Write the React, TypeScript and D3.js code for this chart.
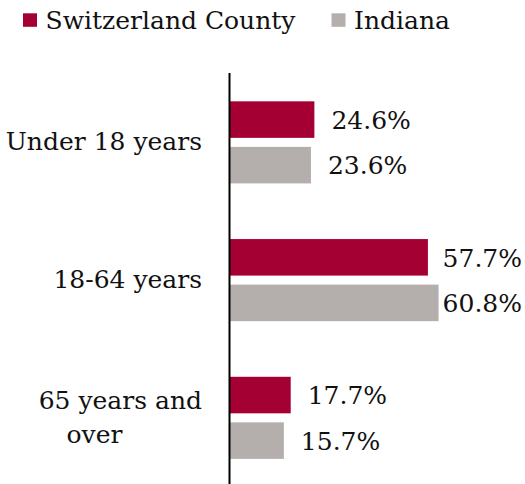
import * as d3 from 'd3'
import { useRef, useEffect } from 'react'

const categories = ['Under 18 years', '18-64 years', '65 years and over']
const seriesNames = ['Switzerland County', 'Indiana']
const switzerlandValues = [24.6, 57.7, 17.7]
const indianaValues = [23.6, 60.8, 15.7]
const labelLines = [['Under 18 years'], ['18-64 years'], ['65 years and', 'over']]
const colors = ['#A50034', '#B4AFAC']

const App = () => {
  const chartRef = useRef<SVGSVGElement>(null)

  useEffect(() => {
    drawChart()
  }, [])

  const drawChart = () => {
    const width = 525
    const height = 484
    const font = 'DejaVu Serif'
    const fontSize = 25

    const svg = d3.select(chartRef.current)
    svg.selectAll('*').remove()
    svg.attr('width', width).attr('height', height)

    const rows = categories.map((c, i) => ({
      category: c,
      values: [switzerlandValues[i], indianaValues[i]]
    }))

    const y0 = d3
      .scaleBand()
      .domain(categories)
      .range([73.5, 486.7])
      .paddingInner(0.404)
      .paddingOuter(0.202)
    const y1 = d3.scaleBand().domain(seriesNames).range([0, y0.bandwidth()]).paddingInner(0.198)
    const x = d3.scaleLinear().domain([0, 80]).range([230, 230 + 80 * 3.43])
    const color = d3.scaleOrdinal<string>().domain(seriesNames).range(colors)

    // legend
    const legend = svg.append('g')
    const legendX = [23, 331.5]
    seriesNames.forEach((name, i) => {
      legend
        .append('rect')
        .attr('x', legendX[i])
        .attr('y', 13.3)
        .attr('width', 14)
        .attr('height', 13.5)
        .attr('fill', color(name))
      legend
        .append('text')
        .attr('x', legendX[i] + 22.5)
        .attr('y', 29.3)
        .attr('font-family', font)
        .attr('font-size', fontSize)
        .attr('fill', '#111')
        .text(name)
    })

    // bars
    const groups = svg
      .append('g')
      .selectAll('g')
      .data(rows)
      .enter()
      .append('g')
      .attr('transform', (d) => 'translate(0,' + y0(d.category) + ')')

    const cells = groups
      .selectAll('g')
      .data((d) => d.values.map((v, i) => ({ key: seriesNames[i], value: v })))
      .enter()
      .append('g')

    cells
      .append('rect')
      .attr('x', x(0))
      .attr('y', (d) => y1(d.key))
      .attr('width', (d) => x(d.value) - x(0))
      .attr('height', y1.bandwidth())
      .attr('fill', (d) => color(d.key))

    cells
      .append('text')
      .attr('y', (d) => y1(d.key) + y1.bandwidth() / 2)
      .attr('dy', '0.37em')
      .attr('font-family', font)
      .attr('font-size', fontSize)
      .attr('fill', '#111')
      .text((d) => d.value.toFixed(1) + '%')
      .attr('x', function (d) {
        const w = (this as SVGTextElement).getComputedTextLength()
        return Math.min(x(d.value) + 17, 522 - w)
      })

    // category labels (second line of wrapped label starts slightly indented)
    const labels = svg
      .append('g')
      .selectAll('text')
      .data(rows)
      .enter()
      .append('text')
      .attr('font-family', font)
      .attr('font-size', fontSize)
      .attr('fill', '#111')

    labels.each(function (d, i) {
      const lines = labelLines[i]
      const center = y0(d.category) + y0.bandwidth() / 2
      const t = d3.select(this)
      lines.forEach((line, j) => {
        t.append('tspan')
          .attr('x', j === 0 ? 202 : 66.5)
          .attr('text-anchor', j === 0 ? 'end' : 'start')
          .attr('y', center + 8 + (j - (lines.length - 1) / 2) * 33.4)
          .text(line)
      })
    })

    // axis line
    svg
      .append('line')
      .attr('x1', 229.5)
      .attr('x2', 229.5)
      .attr('y1', 73)
      .attr('y2', height)
      .attr('stroke', '#000')
      .attr('stroke-width', 2)
  }

  return (
    <div style={{ position: 'absolute', left: 0, top: 0 }}>
      <svg ref={chartRef} style={{ display: 'block' }}></svg>
    </div>
  )
}

export default App
